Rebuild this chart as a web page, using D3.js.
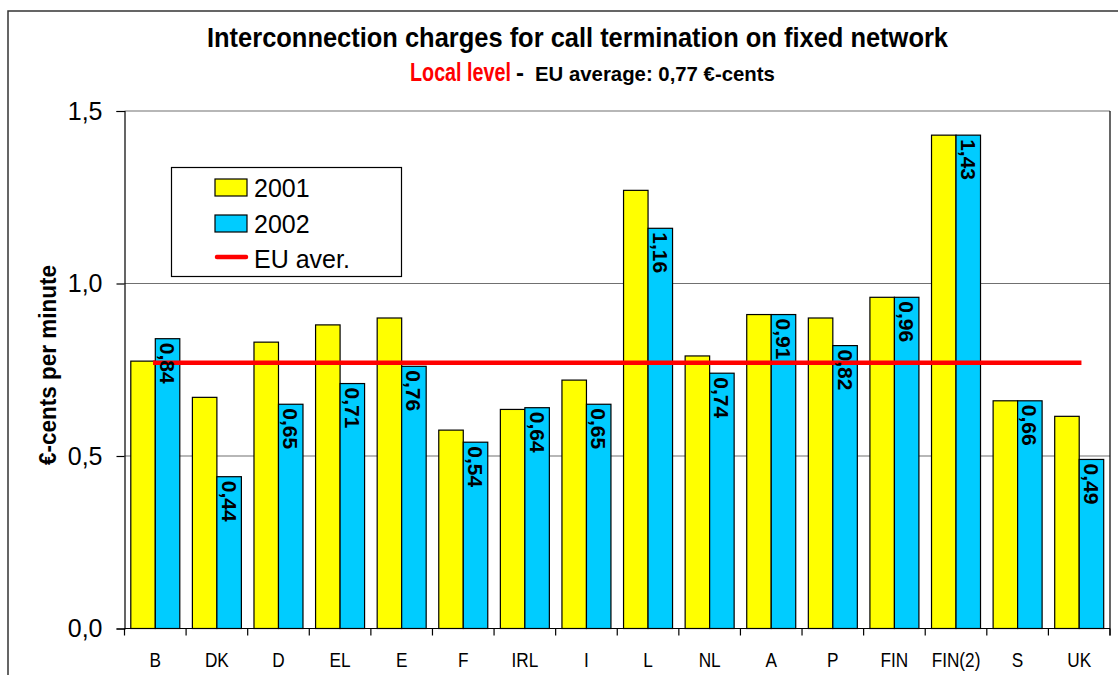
<!DOCTYPE html>
<html>
<head>
<meta charset="utf-8">
<script src="https://cdn.jsdelivr.net/npm/d3@7"></script>
<style>
  html, body { margin: 0; padding: 0; background: #fff; }
  svg { display: block; font-family: "Liberation Sans", Arial, sans-serif; }
</style>
</head>
<body>
<svg id="chart" width="1118" height="675"></svg>
<script>
const categories = ["B","DK","D","EL","E","F","IRL","I","L","NL","A","P","FIN","FIN(2)","S","UK"];
const values2001 = [0.775,0.67,0.83,0.88,0.90,0.575,0.635,0.72,1.27,0.79,0.91,0.90,0.96,1.43,0.66,0.615];
const values2002 = [0.84,0.44,0.65,0.71,0.76,0.54,0.64,0.65,1.16,0.74,0.91,0.82,0.96,1.43,0.66,0.49];
const euAverage = 0.77;
const seriesNames = ["2001","2002"];
const yTicks = [0, 0.5, 1.0, 1.5];
const titleText = "Interconnection charges for call termination on fixed network";
const subtitleRed = "Local level";
const subtitleBlack = "EU average: 0,77 €-cents";
const yAxisTitle = "€-cents per minute";
const legendLabels = ["2001","2002","EU aver."];

const colors = {"2001": "#FFFF00", "2002": "#00CCFF"};
const svg = d3.select("#chart");

const plot = {left: 124.5, right: 1110, top: 111, bottom: 628.5};
const x = d3.scaleBand().domain(categories).range([plot.left, plot.right]).padding(0);
const xs = d3.scaleBand().domain(seriesNames).range([0, x.bandwidth()]).paddingInner(0).paddingOuter(0.257);
const y = d3.scaleLinear().domain([0, 1.5]).range([plot.bottom, plot.top]);
const fmt = v => d3.format(".1f")(v).replace(".", ",");
const fmt2 = v => d3.format(".2f")(v).replace(".", ",");

// outer border
svg.append("rect").attr("x", 8).attr("y", 11).attr("width", 1300).attr("height", 900)
  .attr("fill", "none").attr("stroke", "#333").attr("stroke-width", 1.5);

// title
svg.append("text").attr("x", 207).attr("y", 47)
  .attr("font-size", 28).attr("font-weight", "bold")
  .attr("textLength", 741).attr("lengthAdjust", "spacingAndGlyphs").text(titleText);

// subtitle
svg.append("text").attr("transform", "translate(410,81) scale(0.76,1)")
  .attr("font-weight", "bold").attr("fill", "#FF0000").attr("font-size", 26).text(subtitleRed);
svg.append("text").attr("x", 516).attr("y", 81).attr("font-weight", "bold")
  .attr("font-size", 24).text("-");
svg.append("text").attr("transform", "translate(535,81) scale(0.97,1)")
  .attr("font-weight", "bold").attr("font-size", 21).text(subtitleBlack);

// gridlines
svg.append("g").selectAll("line").data(yTicks.filter(d => d > 0)).join("line")
  .attr("x1", plot.left).attr("x2", plot.right)
  .attr("y1", d => y(d)).attr("y2", d => y(d))
  .attr("stroke", "#707070").attr("stroke-width", 1.2);

// right border
svg.append("line").attr("x1", plot.right).attr("x2", plot.right)
  .attr("y1", plot.top).attr("y2", plot.bottom + 7).attr("stroke", "#000").attr("stroke-width", 1.2);

// bars
const rows = categories.map((c, i) => ({cat: c, vals: [
  {s: "2001", v: values2001[i]}, {s: "2002", v: values2002[i]}]}));
const groups = svg.append("g").selectAll("g").data(rows).join("g")
  .attr("transform", d => `translate(${x(d.cat)},0)`);
groups.selectAll("rect").data(d => d.vals).join("rect")
  .attr("x", d => xs(d.s)).attr("width", xs.bandwidth())
  .attr("y", d => y(d.v)).attr("height", d => y(0) - y(d.v))
  .attr("fill", d => colors[d.s]).attr("stroke", "#000").attr("stroke-width", 1.2);

// EU average line
const line = d3.line().x(d => x(d) + x.bandwidth() / 2).y(() => y(euAverage));
svg.append("path").datum(categories).attr("d", line)
  .attr("fill", "none").attr("stroke", "#FF0000").attr("stroke-width", 4.5).attr("stroke-linecap", "square");

// bar labels (2002)
svg.append("g").selectAll("text").data(rows).join("text")
  .attr("transform", d => `translate(${x(d.cat) + xs("2002") + xs.bandwidth() / 2},${y(d.vals[1].v) + 4}) rotate(90)`)
  .attr("dy", "0.36em").attr("font-size", 21).attr("font-weight", "bold")
  .text(d => fmt2(d.vals[1].v));

// y axis
const yAxis = d3.axisLeft(y).tickValues(yTicks).tickSize(8).tickPadding(14).tickFormat(fmt);
const gy = svg.append("g").attr("transform", `translate(${plot.left},0)`).call(yAxis);
gy.select(".domain").attr("stroke", "#000").attr("stroke-width", 1.2);
gy.selectAll(".tick line").attr("stroke", "#000").attr("stroke-width", 1.2);
gy.selectAll(".tick text").attr("font-size", 25).attr("font-family", "Liberation Sans, Arial").attr("fill", "#000");

// x axis
svg.append("line").attr("x1", plot.left).attr("x2", plot.right).attr("y1", plot.bottom).attr("y2", plot.bottom)
  .attr("stroke", "#000").attr("stroke-width", 1.2);
const boundaries = categories.map(c => x(c)).concat([plot.right]);
svg.append("g").selectAll("line").data(boundaries).join("line")
  .attr("x1", d => d).attr("x2", d => d).attr("y1", plot.bottom).attr("y2", plot.bottom + 7)
  .attr("stroke", "#000").attr("stroke-width", 1.2);
svg.append("g").selectAll("text").data(categories).join("text")
  .attr("transform", d => `translate(${x(d) + x.bandwidth() / 2},667) scale(0.82,1)`)
  .attr("text-anchor", "middle").attr("font-size", 21).text(d => d);

// y axis title
svg.append("text").attr("transform", "translate(56,365) rotate(-90)")
  .attr("text-anchor", "middle").attr("font-size", 23).attr("font-weight", "bold")
  .attr("textLength", 200).attr("lengthAdjust", "spacingAndGlyphs")
  .text(yAxisTitle);

// legend
const lg = svg.append("g");
lg.append("rect").attr("x", 171.5).attr("y", 167.5).attr("width", 230).attr("height", 109)
  .attr("fill", "#fff").attr("stroke", "#000").attr("stroke-width", 1.2);
seriesNames.forEach((s, i) => {
  lg.append("rect").attr("x", 215).attr("y", 179 + i * 36).attr("width", 32).attr("height", 17)
    .attr("fill", colors[s]).attr("stroke", "#000").attr("stroke-width", 1.2);
});
lg.append("line").attr("x1", 217).attr("x2", 246).attr("y1", 257).attr("y2", 257)
  .attr("stroke", "#FF0000").attr("stroke-width", 4.5).attr("stroke-linecap", "round");
legendLabels.forEach((t, i) => {
  lg.append("text").attr("x", 254).attr("y", 197 + i * 35.5).attr("font-size", 25).text(t);
});
</script>
</body>
</html>
